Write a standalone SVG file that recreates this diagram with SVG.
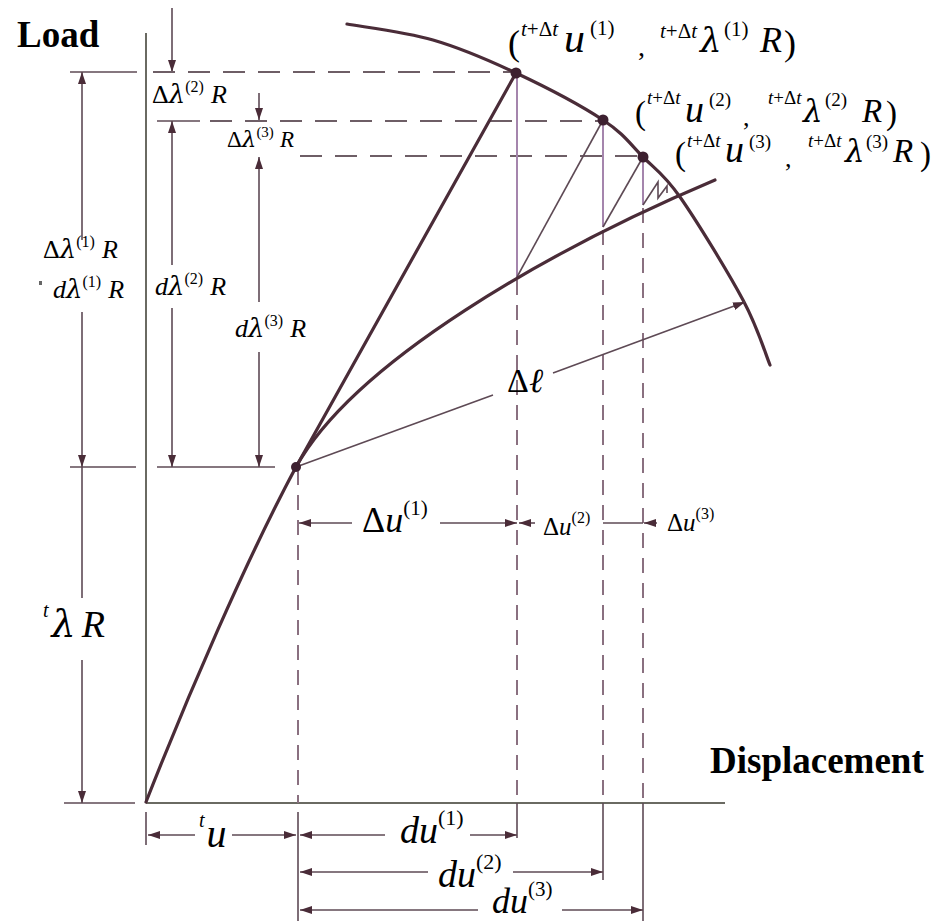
<svg xmlns="http://www.w3.org/2000/svg" width="937" height="921" viewBox="0 0 937 921">
<defs>
<marker id="ah" viewBox="0 0 12 8" refX="12" refY="4" markerWidth="12" markerHeight="8" markerUnits="userSpaceOnUse" orient="auto"><path d="M0,0 L12,4 L0,8 z" fill="#4a2c38"/></marker>
<style>
.thick{stroke:#4a2c38;stroke-width:3.2;fill:none;stroke-linecap:round}
.thin{stroke:#5e4a55;stroke-width:1.6;fill:none}
.lp{stroke:#a585ad;stroke-width:2;fill:none}
.dash{stroke:#6e5e66;stroke-width:2;stroke-dasharray:22 13;fill:none}
.vdash{stroke:#8a7080;stroke-width:2;stroke-dasharray:15 10;fill:none}
.axis{stroke:#6a6a62;stroke-width:2;fill:none}
.arr{marker-end:url(#ah)}
text{font-family:"Liberation Serif","Times New Roman",serif;fill:#000}
.b{font-weight:bold}
.i{font-style:italic}
.g{font-family:"DejaVu Serif","Liberation Serif",serif;font-style:italic}
.dot{fill:#3d2030}
</style>
</defs>
<rect width="937" height="921" fill="#fff"/>

<g id="connectors">
<line x1="146" y1="33" x2="146" y2="803" class="axis"/>
<line x1="146" y1="803" x2="725" y2="803" class="axis"/>
<line x1="70" y1="72" x2="137" y2="72" class="thin"/>
<line x1="70" y1="467" x2="136" y2="467" class="thin"/>
<line x1="157" y1="467" x2="275" y2="467" class="thin"/>
<line x1="64" y1="803" x2="135" y2="803" class="thin"/>
<line x1="157" y1="121" x2="200" y2="121" class="thin"/>
<line x1="82" y1="240" x2="82" y2="72" class="thin arr"/>
<line x1="82" y1="312" x2="82" y2="467" class="thin arr"/>
<line x1="82" y1="467" x2="82" y2="598" class="thin"/>
<line x1="82" y1="660" x2="82" y2="803" class="thin arr"/>
<line x1="172" y1="8" x2="172" y2="72" class="thin arr"/>
<line x1="172" y1="265" x2="172" y2="121" class="thin arr"/>
<line x1="172" y1="308" x2="172" y2="467" class="thin arr"/>
<line x1="259" y1="93" x2="259" y2="120" class="thin arr"/>
<line x1="259" y1="302" x2="259" y2="157" class="thin arr"/>
<line x1="259" y1="352" x2="259" y2="467" class="thin arr"/>
<line x1="153" y1="72" x2="516" y2="72" class="dash"/>
<line x1="210" y1="121" x2="603" y2="121" class="dash"/>
<line x1="300" y1="156" x2="643" y2="156" class="dash"/>
<line x1="517" y1="73" x2="517" y2="277" class="lp"/>
<line x1="603" y1="120" x2="603" y2="227" class="lp"/>
<line x1="643" y1="157" x2="643" y2="205" class="lp"/>
<line x1="298" y1="470" x2="298" y2="803" class="vdash"/>
<line x1="517" y1="280" x2="517" y2="803" class="vdash"/>
<line x1="603" y1="230" x2="603" y2="803" class="vdash"/>
<line x1="643" y1="208" x2="643" y2="803" class="vdash"/>
<line x1="146" y1="812" x2="146" y2="845" class="thin"/>
<line x1="298" y1="812" x2="298" y2="921" class="thin"/>
<line x1="517" y1="803" x2="517" y2="838" class="thin"/>
<line x1="603" y1="803" x2="603" y2="880" class="thin"/>
<line x1="643" y1="803" x2="643" y2="921" class="thin"/>
<line x1="517" y1="277" x2="603" y2="120" class="thin"/>
<line x1="603" y1="227" x2="643" y2="157" class="thin"/>
<path d="M643,205 L658,182 L658,198 L667,186 L667,193" class="thin"/>
<line x1="296" y1="467" x2="516" y2="73" class="thick"/>
<path d="M146,802 C186,700 246,560 296,467 C354,362 549,250 715,180" class="thick"/>
<path d="M347,24 C361.3,26.7 404.8,31.8 433,40 C461.2,48.2 487.7,59.7 516,73 C544.3,86.3 581.8,106 603,120 C624.2,134 630.2,144.2 643,157 C655.8,169.8 663.3,173.2 680,197 C696.7,220.8 728,272 743,300 C758,328 765.5,354.2 770,365" class="thick"/>
<line x1="296" y1="467" x2="493" y2="395" class="thin"/>
<line x1="553" y1="373" x2="745" y2="302" class="thin arr"/>
<line x1="352" y1="523" x2="299" y2="523" class="thin arr"/>
<line x1="440" y1="523" x2="517" y2="523" class="thin arr"/>
<line x1="535" y1="523" x2="519" y2="523" class="thin arr"/>
<line x1="603" y1="523" x2="643" y2="523" class="thin"/>
<line x1="657" y1="523" x2="644" y2="523" class="thin arr"/>
<line x1="195" y1="835" x2="148" y2="835" class="thin arr"/>
<line x1="232" y1="835" x2="296" y2="835" class="thin arr"/>
<line x1="385" y1="835" x2="300" y2="835" class="thin arr"/>
<line x1="470" y1="835" x2="517" y2="835" class="thin arr"/>
<line x1="428" y1="872" x2="300" y2="872" class="thin arr"/>
<line x1="513" y1="872" x2="603" y2="872" class="thin arr"/>
<line x1="478" y1="910" x2="300" y2="910" class="thin arr"/>
<line x1="562" y1="910" x2="643" y2="910" class="thin arr"/>
</g>

<g id="p0"><circle cx="296" cy="467" r="5" class="dot"/></g>
<g id="p1"><circle cx="516" cy="73" r="5.5" class="dot"/></g>
<g id="p2"><circle cx="603" cy="120" r="5.5" class="dot"/></g>
<g id="p3"><circle cx="643" cy="157" r="5.5" class="dot"/></g>

<g id="axis-labels">
<text x="17" y="47" font-size="37" class="b">Load</text>
<text x="710" y="773" font-size="37" class="b">Displacement</text>
</g>

<g id="label-p1" font-size="36">
<text x="508" y="55">(</text>
<text x="521" y="36" font-size="21"><tspan class="i">t</tspan>+Δ<tspan class="i">t</tspan></text>
<text x="564" y="52" class="i" font-size="42">u</text>
<text x="590" y="35" font-size="21">(1)</text>
<text x="638" y="56" font-size="28">,</text>
<text x="660" y="38" font-size="21"><tspan class="i">t</tspan>+Δ<tspan class="i">t</tspan></text>
<text x="700" y="52" class="g" font-size="34">λ</text>
<text x="724" y="36" font-size="21">(1)</text>
<text x="760" y="52" class="i">R</text>
<text x="784" y="55">)</text>
</g>
<g id="label-p2" font-size="33">
<text x="635" y="124">(</text>
<text x="647" y="104" font-size="19"><tspan class="i">t</tspan>+Δ<tspan class="i">t</tspan></text>
<text x="685" y="122" class="i" font-size="38">u</text>
<text x="709" y="106" font-size="19">(2)</text>
<text x="743" y="126" font-size="26">,</text>
<text x="768" y="104" font-size="19"><tspan class="i">t</tspan>+Δ<tspan class="i">t</tspan></text>
<text x="803" y="122" class="g" font-size="31">λ</text>
<text x="825" y="106" font-size="19">(2)</text>
<text x="862" y="122" class="i">R</text>
<text x="886" y="124">)</text>
</g>
<g id="label-p3" font-size="33">
<text x="675" y="165">(</text>
<text x="687" y="147" font-size="19"><tspan class="i">t</tspan>+Δ<tspan class="i">t</tspan></text>
<text x="725" y="162" class="i" font-size="38">u</text>
<text x="749" y="148" font-size="19">(3)</text>
<text x="785" y="167" font-size="26">,</text>
<text x="808" y="147" font-size="19"><tspan class="i">t</tspan>+Δ<tspan class="i">t</tspan></text>
<text x="845" y="162" class="g" font-size="31">λ</text>
<text x="866" y="148" font-size="19">(3)</text>
<text x="893" y="162" class="i">R</text>
<text x="920" y="165">)</text>
</g>

<g id="left-labels" font-size="26">
<text x="43" y="258">Δ<tspan class="g">λ</tspan><tspan font-size="16" dy="-11">(1)</tspan><tspan class="i" dy="11" dx="7">R</tspan></text>
<rect x="39" y="281" width="3" height="4" fill="#666"/>
<text x="53" y="298"><tspan class="i">d</tspan><tspan class="g">λ</tspan><tspan font-size="16" dy="-11">(1)</tspan><tspan class="i" dy="11" dx="7">R</tspan></text>
<text x="155" y="295"><tspan class="i">d</tspan><tspan class="g">λ</tspan><tspan font-size="16" dy="-11">(2)</tspan><tspan class="i" dy="11" dx="7">R</tspan></text>
<text x="235" y="337"><tspan class="i">d</tspan><tspan class="g">λ</tspan><tspan font-size="16" dy="-11">(3)</tspan><tspan class="i" dy="11" dx="7">R</tspan></text>
<text x="152" y="103">Δ<tspan class="g">λ</tspan><tspan font-size="16" dy="-11">(2)</tspan><tspan class="i" dy="11" dx="7">R</tspan></text>
<text x="227" y="147" font-size="23">Δ<tspan class="g">λ</tspan><tspan font-size="15" dy="-10">(3)</tspan><tspan class="i" dy="10" dx="6">R</tspan></text>
<text x="43" y="637" font-size="38"><tspan class="i" font-size="20" dy="-20">t</tspan><tspan class="g" dy="20" dx="3">λ</tspan><tspan class="i" dx="6">R</tspan></text>
</g>

<g id="dim-labels">
<text x="507" y="392" font-size="34">Δ<tspan class="i">ℓ</tspan></text>
<text x="362" y="532" font-size="36">Δ<tspan class="i">u</tspan><tspan font-size="21" dy="-17">(1)</tspan></text>
<text x="543" y="535" font-size="25">Δ<tspan class="i">u</tspan><tspan font-size="16" dy="-12">(2)</tspan></text>
<text x="667" y="531" font-size="25">Δ<tspan class="i">u</tspan><tspan font-size="16" dy="-12">(3)</tspan></text>
<text x="199" y="847" font-size="40"><tspan class="i" font-size="20" dy="-20">t</tspan><tspan class="i" dy="20" dx="2">u</tspan></text>
<text x="400" y="843" font-size="38" class="i">du<tspan font-size="22" dy="-18" font-style="normal">(1)</tspan></text>
<text x="438" y="887" font-size="38" class="i">du<tspan font-size="22" dy="-18" font-style="normal">(2)</tspan></text>
<text x="492" y="913" font-size="36" class="i">du<tspan font-size="21" dy="-17" font-style="normal">(3)</tspan></text>
</g>
</svg>
